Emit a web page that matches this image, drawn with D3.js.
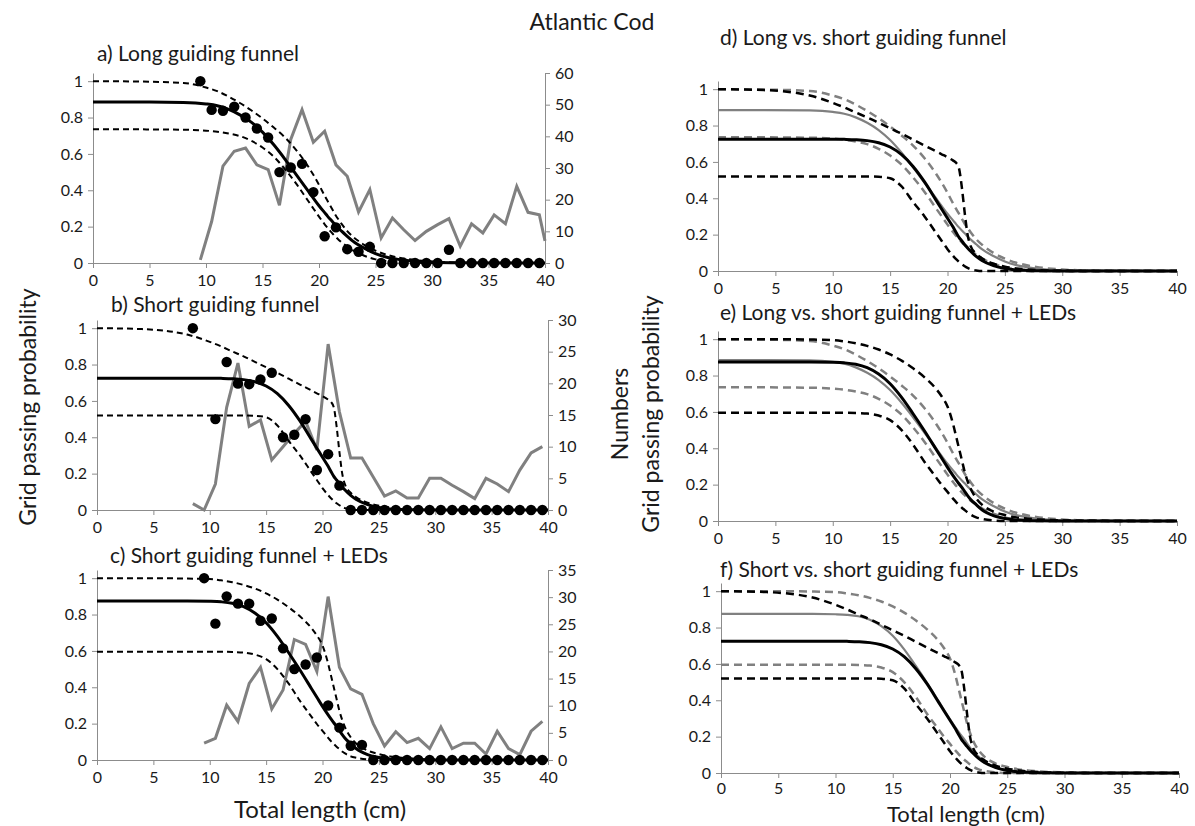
<!DOCTYPE html>
<html>
<head>
<meta charset="utf-8">
<title>Atlantic Cod</title>
<script src="https://d3js.org/d3.v7.min.js"></script>
<style>
  html, body { margin: 0; padding: 0; background: white; }
  text { font-family: Lato, "Open Sans", sans-serif; fill: #1a1a1a; }
  .axis path, .axis line { stroke: #8c8c8c; stroke-width: 1; }
  .axis text { font-size: 16px; fill: #1a1a1a; }
</style>
</head>
<body>
<div id="chart"></div>
<script>
// ---------- data ----------
const lengthTicks = [0, 5, 10, 15, 20, 25, 30, 35, 40];
const probTicks = [0, 0.2, 0.4, 0.6, 0.8, 1];
const numTicksLong = [0, 10, 20, 30, 40, 50, 60];
const numTicksShort = [0, 5, 10, 15, 20, 25, 30];
const numTicksLed = [0, 5, 10, 15, 20, 25, 30, 35];

// lengths where the fitted curves were read
const curveLengths = [0, 4, 8, 10, 11, 12, 13, 14, 15, 16, 17, 18, 19, 19.5, 20, 20.5, 20.75, 21, 21.25, 21.5, 21.75, 22, 22.5, 23, 24, 25, 26, 27, 28, 30, 33, 36, 40];

// long guiding funnel
const longFit   = [0.885, 0.885, 0.883, 0.875, 0.865, 0.845, 0.815, 0.775, 0.72, 0.65, 0.57, 0.485, 0.40, 0.357, 0.315, 0.277, 0.258, 0.24, 0.223, 0.207, 0.19, 0.175, 0.147, 0.12, 0.082, 0.052, 0.032, 0.02, 0.012, 0.004, 0.001, 0, 0];
const longUpper = [1.0, 0.998, 0.99, 0.965, 0.945, 0.915, 0.88, 0.84, 0.795, 0.745, 0.69, 0.62, 0.535, 0.485, 0.43, 0.37, 0.342, 0.315, 0.287, 0.26, 0.237, 0.215, 0.175, 0.145, 0.10, 0.068, 0.045, 0.03, 0.02, 0.008, 0.002, 0.001, 0];
const longLower = [0.735, 0.735, 0.733, 0.728, 0.722, 0.712, 0.698, 0.672, 0.635, 0.585, 0.515, 0.435, 0.345, 0.30, 0.255, 0.213, 0.194, 0.175, 0.158, 0.142, 0.127, 0.113, 0.09, 0.07, 0.04, 0.02, 0.01, 0.005, 0.002, 0, 0, 0, 0];

// short guiding funnel
const shortFit   = [0.725, 0.725, 0.725, 0.725, 0.724, 0.722, 0.717, 0.705, 0.682, 0.64, 0.575, 0.49, 0.39, 0.34, 0.29, 0.24, 0.212, 0.185, 0.165, 0.145, 0.127, 0.11, 0.08, 0.058, 0.03, 0.014, 0.006, 0.003, 0.001, 0, 0, 0, 0];
const shortUpper = [1.0, 0.995, 0.965, 0.925, 0.90, 0.872, 0.845, 0.815, 0.785, 0.755, 0.722, 0.69, 0.658, 0.642, 0.626, 0.607, 0.595, 0.565, 0.46, 0.32, 0.20, 0.14, 0.095, 0.07, 0.04, 0.024, 0.014, 0.008, 0.004, 0.001, 0, 0, 0];
const shortLower = [0.52, 0.52, 0.52, 0.52, 0.52, 0.52, 0.52, 0.518, 0.51, 0.465, 0.38, 0.30, 0.21, 0.165, 0.12, 0.082, 0.065, 0.05, 0.037, 0.026, 0.017, 0.01, 0.003, 0, 0, 0, 0, 0, 0, 0, 0, 0, 0];

// short guiding funnel + LEDs
const ledFit   = [0.875, 0.875, 0.875, 0.873, 0.87, 0.862, 0.843, 0.808, 0.755, 0.68, 0.59, 0.495, 0.395, 0.345, 0.295, 0.248, 0.226, 0.205, 0.185, 0.162, 0.14, 0.12, 0.09, 0.062, 0.03, 0.014, 0.006, 0.003, 0.001, 0, 0, 0, 0];
const ledUpper = [1.0, 1.0, 0.998, 0.995, 0.988, 0.978, 0.963, 0.943, 0.916, 0.882, 0.84, 0.79, 0.727, 0.685, 0.63, 0.53, 0.465, 0.40, 0.335, 0.27, 0.22, 0.18, 0.125, 0.09, 0.052, 0.033, 0.02, 0.013, 0.008, 0.003, 0.001, 0, 0];
const ledLower = [0.595, 0.595, 0.595, 0.595, 0.595, 0.594, 0.591, 0.58, 0.555, 0.50, 0.42, 0.325, 0.24, 0.198, 0.16, 0.122, 0.104, 0.088, 0.073, 0.06, 0.047, 0.036, 0.02, 0.012, 0.003, 0, 0, 0, 0, 0, 0, 0, 0];

// observed grid passing proportions
const longObsLen = [9.5, 10.5, 11.5, 12.5, 13.5, 14.5, 15.5, 16.5, 17.5, 18.5, 19.5, 20.5, 21.5, 22.5, 23.5, 24.5, 25.5, 26.5, 27.5, 28.5, 29.5, 30.5, 31.5, 32.5, 33.5, 34.5, 35.5, 36.5, 37.5, 38.5, 39.5];
const longObs    = [1.0, 0.842, 0.837, 0.86, 0.80, 0.74, 0.69, 0.50, 0.525, 0.545, 0.39, 0.147, 0.196, 0.076, 0.062, 0.089, 0, 0, 0, 0, 0, 0, 0.073, 0, 0, 0, 0, 0, 0, 0, 0];
const shortObsLen = [8.5, 10.5, 11.5, 12.5, 13.5, 14.5, 15.5, 16.5, 17.5, 18.5, 19.5, 20.5, 21.5, 22.5, 23.5, 24.5, 25.5, 26.5, 27.5, 28.5, 29.5, 30.5, 31.5, 32.5, 33.5, 34.5, 35.5, 36.5, 37.5, 38.5, 39.5];
const shortObs    = [1.0, 0.50, 0.814, 0.695, 0.692, 0.718, 0.755, 0.40, 0.414, 0.50, 0.22, 0.307, 0.134, 0, 0, 0, 0, 0, 0, 0, 0, 0, 0, 0, 0, 0, 0, 0, 0, 0, 0];
const ledObsLen = [9.5, 10.5, 11.5, 12.5, 13.5, 14.5, 15.5, 16.5, 17.5, 18.5, 19.5, 20.5, 21.5, 22.5, 23.5, 24.5, 25.5, 26.5, 27.5, 28.5, 29.5, 30.5, 31.5, 32.5, 33.5, 34.5, 35.5, 36.5, 37.5, 38.5, 39.5];
const ledObs    = [1.0, 0.75, 0.90, 0.86, 0.86, 0.766, 0.778, 0.614, 0.50, 0.525, 0.564, 0.30, 0.178, 0.078, 0.083, 0, 0, 0, 0, 0, 0, 0, 0, 0, 0, 0, 0, 0, 0, 0, 0];

// numbers caught per length class (right axis)
const longNumLen = [9.5, 10.5, 11.5, 12.5, 13.5, 14.5, 15.5, 16.5, 17.5, 18.5, 19.5, 20.5, 21.5, 22.5, 23.5, 24.5, 25.5, 26.5, 27.5, 28.5, 29.5, 30.5, 31.5, 32.5, 33.5, 34.5, 35.5, 36.5, 37.5, 38.5, 39.5, 40];
const longNum    = [1, 13.1, 30.6, 35.3, 36.3, 31, 29.5, 18.2, 39, 48.4, 38.1, 41.6, 31, 27.4, 16.1, 23.2, 7.9, 14.2, 10.5, 7.1, 10, 12.1, 14, 5.3, 12.4, 9.5, 15.2, 12.4, 24.2, 16, 15.2, 7];
const shortNumLen = [8.5, 9.5, 10.5, 11.5, 12.5, 13.5, 14.5, 15.5, 16.5, 17.5, 18.5, 19.5, 20.5, 21.5, 22.5, 23.5, 24.5, 25.5, 26.5, 27.5, 28.5, 29.5, 30.5, 31.5, 32.5, 33.5, 34.5, 35.5, 36.5, 37.5, 38.5, 39.5];
const shortNum    = [1, 0, 4.1, 16.2, 23.2, 13.2, 14.2, 7.9, 10, 12.1, 14, 9.5, 26.2, 15.5, 8.2, 8.2, 5.2, 2.2, 3, 1.9, 1.9, 5, 5, 3.9, 2.9, 1.8, 5, 4.1, 2.9, 6.3, 9, 10];
const ledNumLen = [9.5, 10.5, 11.5, 12.5, 13.5, 14.5, 15.5, 16.5, 17.5, 18.5, 19.5, 20.5, 21.5, 22.5, 23.5, 24.5, 25.5, 26.5, 27.5, 28.5, 29.5, 30.5, 31.5, 32.5, 33.5, 34.5, 35.5, 36.5, 37.5, 38.5, 39.5];
const ledNum    = [3.1, 4, 10.1, 7.1, 14.1, 17.1, 9.4, 12.9, 22.2, 21.3, 16.3, 30.1, 17.1, 13.1, 12.1, 6.7, 2.6, 5.2, 3.2, 4, 2.1, 6.1, 2.1, 3.1, 3.1, 1.1, 5.3, 2.1, 1, 5.3, 7.1];

// ---------- helpers ----------
const zip = (xs, ys) => xs.map((x, i) => ({ x: x, y: ys[i] }));
const fitSet = (fit, upper, lower) => ({
    fit: zip(curveLengths, fit),
    upper: zip(curveLengths, upper),
    lower: zip(curveLengths, lower)
});
const longSet = fitSet(longFit, longUpper, longLower);
const shortSet = fitSet(shortFit, shortUpper, shortLower);
const ledSet = fitSet(ledFit, ledUpper, ledLower);

const GRAY = "#808080";

// single-treatment panels (left column)
const leftPanels = [
    { title: "a) Long guiding funnel", tx: 97, ty: 61, left: 93, right: 545, top: 73, bottom: 263, pad: 7,
      set: longSet, obs: zip(longObsLen, longObs), nums: zip(longNumLen, longNum), numMax: 60, numTicks: numTicksLong },
    { title: "b) Short guiding funnel", tx: 111, ty: 312, left: 97, right: 548, top: 320, bottom: 510, pad: 7,
      set: shortSet, obs: zip(shortObsLen, shortObs), nums: zip(shortNumLen, shortNum), numMax: 30, numTicks: numTicksShort },
    { title: "c) Short guiding funnel + LEDs", tx: 110, ty: 563, left: 97, right: 548, top: 570, bottom: 760, pad: 7,
      set: ledSet, obs: zip(ledObsLen, ledObs), nums: zip(ledNumLen, ledNum), numMax: 35, numTicks: numTicksLed }
];

// comparison panels (right column)
const rightPanels = [
    { title: "d) Long vs. short guiding funnel", tx: 720, ty: 45, left: 718, right: 1177, top: 81, bottom: 271, pad: 7,
      gray: longSet, black: shortSet },
    { title: "e) Long vs. short guiding funnel + LEDs", tx: 720, ty: 320, left: 718, right: 1177, top: 331, bottom: 521, pad: 7,
      gray: longSet, black: ledSet },
    { title: "f) Short vs. short guiding funnel + LEDs", tx: 720, ty: 577, left: 721, right: 1179, top: 583, bottom: 773, pad: 5,
      gray: ledSet, black: shortSet }
];

const svg = d3.select("#chart").append("svg")
    .attr("width", 1195)
    .attr("height", 826);

svg.append("rect").attr("width", 1195).attr("height", 826).attr("fill", "white");

function baseAxes(p) {
    const x = d3.scaleLinear().domain([0, 40]).range([p.left, p.right]);
    const y = d3.scaleLinear().domain([0, 1.045]).range([p.bottom, p.top]);
    const g = svg.append("g");

    g.append("g").attr("class", "axis")
        .attr("transform", `translate(0,${p.bottom})`)
        .call(d3.axisBottom(x).tickValues(lengthTicks).tickSize(5).tickSizeOuter(0).tickPadding(p.pad));

    g.append("g").attr("class", "axis")
        .attr("transform", `translate(${p.left},0)`)
        .call(d3.axisLeft(y).tickValues(probTicks).tickFormat(d3.format("~g"))
            .tickSize(5).tickSizeOuter(0).tickPadding(5));

    g.append("text")
        .attr("x", p.tx).attr("y", p.ty)
        .style("font-size", "21px")
        .text(p.title);
    return { x, y, g };
}

const lineGen = (x, y) => d3.line().x(d => x(d.x)).y(d => y(d.y)).curve(d3.curveMonotoneX);

// left column
leftPanels.forEach(p => {
    const { x, y, g } = baseAxes(p);
    const yn = d3.scaleLinear().domain([0, p.numMax]).range([p.bottom, p.top]);

    g.append("g").attr("class", "axis")
        .attr("transform", `translate(${p.right},0)`)
        .call(d3.axisRight(yn).tickValues(p.numTicks).tickSize(5).tickSizeOuter(0).tickPadding(5));

    // numbers caught
    g.append("path")
        .datum(p.nums)
        .attr("fill", "none")
        .attr("stroke", GRAY)
        .attr("stroke-width", 3)
        .attr("d", d3.line().x(d => x(d.x)).y(d => yn(d.y)));

    const curve = lineGen(x, y);
    [p.set.upper, p.set.lower].forEach(band => {
        g.append("path")
            .datum(band)
            .attr("fill", "none")
            .attr("stroke", "black")
            .attr("stroke-width", 2)
            .attr("stroke-dasharray", "6,4")
            .attr("d", curve);
    });

    g.append("path")
        .datum(p.set.fit)
        .attr("fill", "none")
        .attr("stroke", "black")
        .attr("stroke-width", 3)
        .attr("d", curve);

    g.selectAll("circle.obs")
        .data(p.obs)
        .enter()
        .append("circle")
        .attr("class", "obs")
        .attr("cx", d => x(d.x))
        .attr("cy", d => y(d.y))
        .attr("r", 5.2)
        .attr("fill", "black");
});

// right column
rightPanels.forEach(p => {
    const { x, y, g } = baseAxes(p);
    const curve = lineGen(x, y);

    [[p.gray, GRAY, 2.2], [p.black, "black", 3]].forEach(([set, color, w]) => {
        [set.upper, set.lower].forEach(band => {
            g.append("path")
                .datum(band)
                .attr("fill", "none")
                .attr("stroke", color)
                .attr("stroke-width", 2.5)
                .attr("stroke-dasharray", "8,5")
                .attr("d", curve);
        });
        g.append("path")
            .datum(set.fit)
            .attr("fill", "none")
            .attr("stroke", color)
            .attr("stroke-width", w)
            .attr("d", curve);
    });
});

// figure labels
svg.append("text")
    .attr("x", 592).attr("y", 30)
    .attr("text-anchor", "middle")
    .style("font-size", "23px")
    .text("Atlantic Cod");

svg.append("text")
    .attr("transform", "translate(36,407) rotate(-90)")
    .attr("text-anchor", "middle")
    .style("font-size", "23px")
    .text("Grid passing probability");

svg.append("text")
    .attr("transform", "translate(628,414) rotate(-90)")
    .attr("text-anchor", "middle")
    .style("font-size", "23px")
    .text("Numbers");

svg.append("text")
    .attr("transform", "translate(659,414) rotate(-90)")
    .attr("text-anchor", "middle")
    .style("font-size", "23px")
    .text("Grid passing probability");

svg.append("text")
    .attr("x", 320).attr("y", 818)
    .attr("text-anchor", "middle")
    .style("font-size", "24px")
    .text("Total length (cm)");

svg.append("text")
    .attr("x", 966).attr("y", 822)
    .attr("text-anchor", "middle")
    .style("font-size", "22px")
    .text("Total length (cm)");
</script>
</body>
</html>
